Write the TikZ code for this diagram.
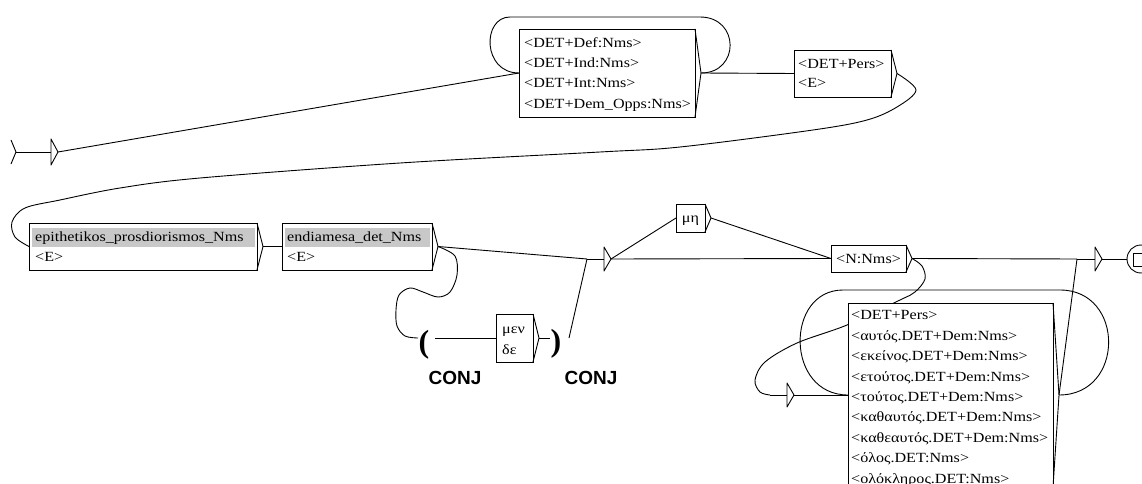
\documentclass[tikz,border=0pt]{standalone}
\usepackage{fontspec}
\setmainfont[FakeStretch=1.15]{Liberation Serif}
\newfontfamily\parfont{Liberation Serif}
\newfontfamily\conjfont{Liberation Sans}
\usetikzlibrary{calc}
\pgfdeclarelayer{bg}
\pgfsetlayers{bg,main}
\definecolor{hl}{RGB}{200,200,200}
\tikzset{
  wire/.style={draw=black, line width=0.9pt, line join=round},
  ubox/.style={draw=black, line width=0.9pt, fill=white, inner sep=0pt, outer sep=0pt, rectangle},
  tl/.style={anchor=base west, inner sep=0pt, font=\fontsize{14}{16}\selectfont},
  tc/.style={anchor=base, inner sep=0pt, font=\fontsize{14}{16}\selectfont},
  band/.style={fill=hl, draw=none},
  conj/.style={anchor=base, inner sep=0pt, font=\conjfont\bfseries\fontsize{19}{22}\selectfont},
  paren/.style={anchor=base west, inner sep=0pt, font=\parfont\bfseries\fontsize{32}{36}\selectfont},
}
\newcommand\UBox[5]{%
  \node[ubox, minimum width=#4pt, minimum height=#5pt] (#1) at (#2,#3) {};
  \coordinate (#1-in) at (#1.west);
  \coordinate (#1-out) at ($(#1.east)+(6,0)$);
  \draw[wire] (#1.north east) -- (#1-out) -- (#1.south east);
}
\newcommand\Junc[4]{%
  \coordinate (#1-in) at (#2,#3);
  \coordinate (#1-tri) at (#4,#3);
  \coordinate (#1-out) at ($(#1-tri)+(7,0)$);
  \draw[wire] (#1-in) -- (#1-tri);
  \draw[wire] ($(#1-tri)+(0,-12)$) -- (#1-out) -- ($(#1-tri)+(0,12)$) -- cycle;
}
\begin{document}
\begin{tikzpicture}[x=1pt,y=-1pt]
\useasboundingbox (0,0) rectangle (1142,484);
\begin{pgfonlayer}{bg}
\fill[white] (0,0) rectangle (1142,484);
\end{pgfonlayer}

% initial state
\coordinate (init-mark) at (16,152);
\coordinate (init-tri) at (51,152);
\coordinate (init-out) at (58,152);
\draw[wire] (11,140) -- (init-mark) -- (11,164);
\draw[wire] (init-mark) -- (init-tri);
\draw[wire] (51,139) -- (init-out) -- (51,165) -- cycle;

% DET box
\UBox{det}{607}{73}{176}{88}
\node[tl] (det1) at (524,47.5) {<DET+Def:Nms>};
\node[tl] (det2) at (524,67.8) {<DET+Ind:Nms>};
\node[tl] (det3) at (524,88) {<DET+Int:Nms>};
\node[tl] (det4) at (524,108.5) {<DET+Dem\_Opps:Nms>};

% DET+Pers box
\UBox{pers}{842.5}{73.5}{97}{47}
\node[tl] (pers1) at (798,68.5) {<DET+Pers>};
\node[tl] (pers2) at (798,87.8) {<E>};

% epithetikos box
\UBox{epi}{143}{246.5}{228}{47}
\fill[band] (32,228) rectangle (255,247);
\node[tl] (epi1) at (35,241.5) {epithetikos\_prosdiorismos\_Nms};
\node[tl] (epi2) at (35,261.5) {<E>};

% endiamesa box
\UBox{endi}{357}{246.5}{150}{47}
\fill[band] (285,228) rectangle (430,247);
\node[tl] (endi1) at (287,241.5) {endiamesa\_det\_Nms};
\node[tl] (endi2) at (287,261.5) {<E>};

% mu eta box
\UBox{mu}{690.5}{218}{29}{28}
\node[tc] (mu1) at (690.5,222.6) {μη};

% N:Nms box
\UBox{nn}{868.5}{258.5}{75}{27}
\node[tc] (nn1) at (868.5,263.2) {<N:Nms>};

% men de box
\UBox{men}{514.5}{338}{37}{48}
\node[tl] (men1) at (502,333.5) {μεν};
\node[tl] (men2) at (502,354) {δε};

% list box
\UBox{list}{950.5}{395}{205}{184}
\node[tl] (l1) at (851,319.6) {<DET+Pers>};
\node[tl] (l2) at (851,340.2) {<αυτός.DET+Dem:Nms>};
\node[tl] (l3) at (851,360.6) {<εκείνος.DET+Dem:Nms>};
\node[tl] (l4) at (851,381) {<ετούτος.DET+Dem:Nms>};
\node[tl] (l5) at (851,401.4) {<τούτος.DET+Dem:Nms>};
\node[tl] (l6) at (851,421.8) {<καθαυτός.DET+Dem:Nms>};
\node[tl] (l7) at (851,442.2) {<καθεαυτός.DET+Dem:Nms>};
\node[tl] (l8) at (851,462.6) {<όλος.DET:Nms>};
\node[tl] (l9) at (851,483) {<ολόκληρος.DET:Nms>};

% junctions
\Junc{ja}{587}{259}{604}
\Junc{jb}{1077}{259}{1095}
\Junc{jc}{770}{395}{787}

% variable brackets
\node[paren] (open) at (418.5,352.5) {(};
\coordinate (open-in) at (418,338);
\coordinate (open-out) at (435,338);
\node[paren] (close) at (550.5,351.5) {)};
\coordinate (close-in) at (550,338);
\coordinate (close-out) at (569,338);
\node[conj] (conj1) at (455,384) {CONJ};
\node[conj] (conj2) at (591,384) {CONJ};

% final state
\node[circle, draw, line width=0.9pt, minimum size=28pt, inner sep=0pt, fill=white] (fin) at (1141,259) {};
\draw[wire] (1133,253) rectangle (1149,266);

% connectors
\begin{pgfonlayer}{bg}
\draw[wire] (init-out) -- (det-in);
\draw[wire] (det-out) .. controls (740,73) and (740,17) .. (700,17) -- (510,17) .. controls (482,17) and (482,73) .. (det-in);
\draw[wire] (det-out) -- (pers-in);
\draw[wire] plot[smooth,tension=0.55] coordinates {(pers-out) (916,90) (897,107) (867,120) (813,130) (680,147) (600,152) (400,163) (200,178) (120,188) (60,200) (25,208) (12,222) (15,237) (epi-in)};
\draw[wire] (epi-out) -- (endi-in);
\draw[wire] (endi-out) -- (ja-in);
\draw[wire] plot[smooth,tension=0.55] coordinates {(endi-out) (455,256) (457,275) (450,292) (438,297) (423,292) (410,288) (399,295) (396,310) (397,326) (405,336) (open-in)};
\draw[wire] (open-out) -- (men-in);
\draw[wire] (men-out) -- (close-in);
\draw[wire] (close-out) -- (ja-in);
\draw[wire] (ja-out) -- (mu-in);
\draw[wire] (ja-out) -- (nn-in);
\draw[wire] (mu-out) -- (nn-in);
\draw[wire] (nn-out) -- (jb-in);
\draw[wire] plot[smooth,tension=0.55] coordinates {(nn-out) (922,266) (925,279) (915,292) (900,300) (847,325) (797,343) (765,362) (755,380) (760,392) (jc-in)};
\draw[wire] (jc-out) -- (list-in);
\draw[wire] (list-out) .. controls (1125,395) and (1125,290) .. (1060,290) -- (843,290) .. controls (785,290) and (785,395) .. (list-in);
\draw[wire] (list-out) -- (jb-in);
\draw[wire] (jb-out) -- (fin);
\end{pgfonlayer}
\end{tikzpicture}
\end{document}
